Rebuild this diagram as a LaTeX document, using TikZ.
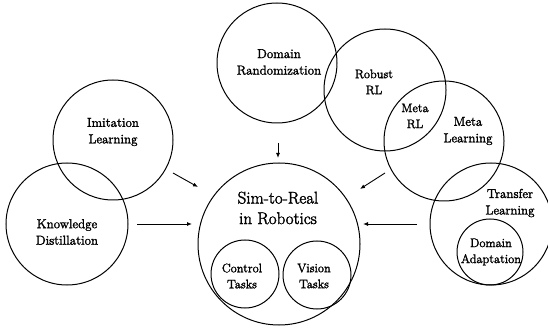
\documentclass[tikz,border=0pt]{standalone}
\usepackage{fontspec}
\setmainfont{Latin Modern Roman}[FakeBold=2, UprightFont=*, BoldFont=*]
\usetikzlibrary{arrows.meta}

\begin{document}
\begin{tikzpicture}[x=1pt, y=1pt,
    ring/.style={draw, circle, line width=1pt, inner sep=0pt},
    lbl/.style={align=center, font=\fontsize{13}{16.5}\selectfont\bfseries},
    small/.style={align=center, font=\fontsize{12.4}{16}\selectfont\bfseries},
    big/.style={align=center, font=\fontsize{17}{20.5}\selectfont\bfseries},
    arr/.style={-{Latex[length=5pt, width=4pt]}, line width=0.9pt}]
      \useasboundingbox (0,0) rectangle (548,329);

      % Draw the circles
      \foreach \name/\x/\y/\r in {dr/277/266/60, rrl/385/239/61, ml/444/188/60,
          il/113/189/60, kd/67/105/61, sim/279/85/81, ctl/245/55/34,
          vis/317/54/34, tl/491/105/61, da/490/77/33} {
          \node[ring, minimum size=2*\r pt] (\name) at (\x,\y) {};
      }

      % Add the labels
      \node[lbl] (drtext) at (279,267) {Domain\\Randomization};
      \node[small] (rrltext) at (374,247) {Robust\\RL};
      \node[small] (mrltext) at (415,213) {Meta\\RL};
      \node[lbl] (mltext) at (468,198) {Meta\\Learning};
      \node[lbl] (iltext) at (113,197) {Imitation\\Learning};
      \node[lbl] (kdtext) at (67,97) {Knowledge\\Distillation};
      \node[big] (simtext) at (278,121) {Sim-to-Real\\in Robotics};
      \node[small] (ctltext) at (242,53) {Control\\Tasks};
      \node[small] (vistext) at (314,53) {Vision\\Tasks};
      \node[lbl] (tltext) at (510,126) {Transfer\\Learning};
      \node[small] (datext) at (491,77) {Domain\\Adaptation};

      % Arrow end points
      \coordinate (ilout) at (173,156);
      \coordinate (ilin) at (198,142);
      \coordinate (kdout) at (137,105);
      \coordinate (kdin) at (192,105);
      \coordinate (drout) at (278,186);
      \coordinate (drin) at (278,171);
      \coordinate (mlout) at (385,156);
      \coordinate (mlin) at (360,140);
      \coordinate (tlout) at (417,105);
      \coordinate (tlin) at (363,105);

      \draw[arr] (ilout) -- (ilin);
      \draw[arr] (kdout) -- (kdin);
      \draw[arr] (drout) -- (drin);
      \draw[arr] (mlout) -- (mlin);
      \draw[arr] (tlout) -- (tlin);

    \end{tikzpicture}
\end{document}
